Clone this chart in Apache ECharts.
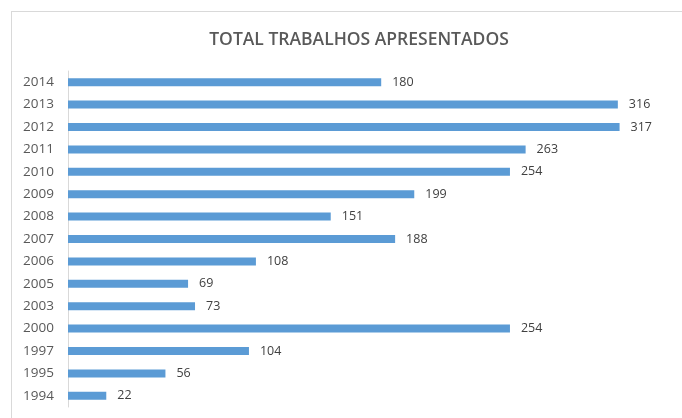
<!DOCTYPE html>
<html>
<head>
<meta charset="utf-8">
<script src="https://cdn.jsdelivr.net/npm/echarts@6/dist/echarts.min.js"></script>
<style>
  html, body { margin: 0; padding: 0; background: #fff; }
  #frame { position: absolute; left: 11px; top: 11px; width: 680px; height: 420px; border: 1px solid #d9d9d9; }
  #chart { position: absolute; left: 0; top: 0; width: 682px; height: 418px; }
</style>
</head>
<body>
<div id="frame"></div>
<div id="chart"></div>
<script>
// years from bottom to top
const years = ['1994', '1995', '1997', '2000', '2003', '2005', '2006', '2007', '2008', '2009', '2010', '2011', '2012', '2013', '2014']
const totals = [22, 56, 104, 254, 73, 69, 108, 188, 151, 199, 254, 263, 317, 316, 180]

var myChart = echarts.init(document.getElementById('chart'), null, { renderer: 'canvas' })

myChart.setOption({
  animation: false,
  title: {
    text: 'TOTAL TRABALHOS APRESENTADOS',
    left: 354,
    textAlign: 'center',
    top: 26,
    textStyle: {
      fontFamily: 'Open Sans',
      fontSize: 17.5,
      fontWeight: 600,
      color: '#595959'
    }
  },
  grid: {
    left: 68,
    right: 5,
    top: 71,
    bottom: 11
  },
  xAxis: {
    type: 'value',
    min: 0,
    max: 350,
    show: false
  },
  yAxis: {
    type: 'category',
    data: years,
    axisLine: { show: true, lineStyle: { color: '#d9d9d9', width: 1 } },
    axisTick: { show: false },
    axisLabel: {
      color: '#595959',
      fontFamily: 'Open Sans',
      fontSize: 13.5,
      margin: 14
    }
  },
  series: [
    {
      type: 'bar',
      data: totals,
      barWidth: 8,
      itemStyle: { color: '#5b9bd5' },
      label: {
        show: true,
        position: 'right',
        distance: 11,
        color: '#404040',
        fontFamily: 'Open Sans',
        fontSize: 12.5
      }
    }
  ]
})
</script>
</body>
</html>
